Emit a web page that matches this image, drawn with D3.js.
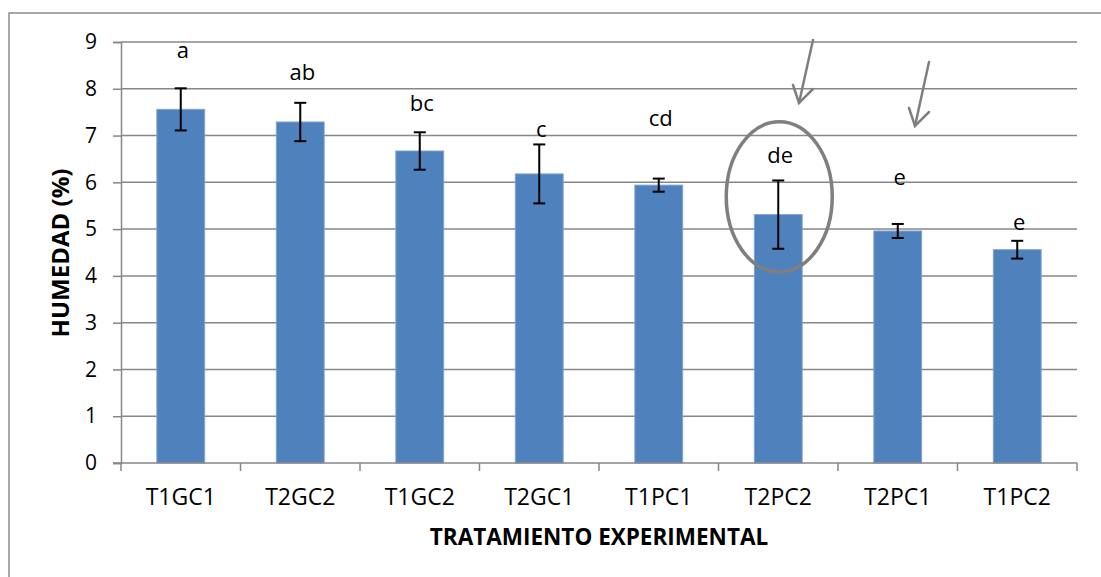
<!DOCTYPE html>
<html>
<head>
<meta charset="utf-8">
<script src="https://cdn.jsdelivr.net/npm/d3@7"></script>
<style>
html,body{margin:0;padding:0;background:#fff;}
svg{display:block;font-family:"Open Sans",sans-serif;}
</style>
</head>
<body>
<svg id="chart" width="1101" height="577"></svg>
<script>
const categories = ["T1GC1","T2GC2","T1GC2","T2GC1","T1PC1","T2PC2","T2PC1","T1PC2"];
const values = [7.56, 7.29, 6.67, 6.18, 5.94, 5.31, 4.96, 4.56];
const errors = [0.45, 0.41, 0.40, 0.63, 0.14, 0.73, 0.15, 0.19];
const letters = ["a","ab","bc","c","cd","de","e","e"];
const letterLevels = [8.66, 8.19, 7.53, 6.97, 7.20, 6.41, 5.94, 4.98];
const yTicks = [0,1,2,3,4,5,6,7,8,9];
const yTitle = "HUMEDAD (%)";
const xTitle = "TRATAMIENTO EXPERIMENTAL";

const svg = d3.select("#chart");
const mLeft = 121, mRight = 1077, mTop = 42, mBottom = 463;
const grid = "#878787";

// outer frame
svg.append("rect").attr("x",9).attr("y",13).attr("width",1101).attr("height",600)
  .attr("fill","none").attr("stroke","#8c8c8c").attr("stroke-width",1.5);

const x = d3.scaleBand().domain(categories).range([mLeft,mRight]).paddingInner(0.6).paddingOuter(0.3);
const xb = d3.scaleBand().domain(categories).range([mLeft,mRight]);
const y = d3.scaleLinear().domain([0,9]).range([mBottom,mTop]);

// gridlines
svg.append("g").selectAll("line").data(yTicks.filter(d=>d>0)).join("line")
  .attr("x1",mLeft).attr("x2",mRight).attr("y1",d=>y(d)).attr("y2",d=>y(d))
  .attr("stroke",grid).attr("stroke-width",1.5);

// y axis
const yAxis = svg.append("g").attr("transform",`translate(${mLeft},0)`)
  .call(d3.axisLeft(y).tickValues(yTicks).tickSize(8).tickPadding(16).tickFormat(d3.format("d")));
yAxis.select(".domain").attr("stroke",grid).attr("stroke-width",1.5);
yAxis.selectAll(".tick line").attr("stroke",grid).attr("stroke-width",1.5);
yAxis.selectAll("text").attr("font-size",21).attr("fill","#000").attr("font-family","Open Sans");

// bars
svg.append("g").selectAll("rect").data(categories).join("rect")
  .attr("x",d=>x(d)).attr("width",x.bandwidth())
  .attr("y",(d,i)=>y(values[i])).attr("height",(d,i)=>y(0)-y(values[i]))
  .attr("fill","#4F81BD").attr("stroke","#7FA2CF").attr("stroke-width",1);

// x axis
const xAxisG = svg.append("g").attr("transform",`translate(0,${mBottom})`);
xAxisG.append("line").attr("x1",mLeft-8).attr("x2",mRight).attr("y1",0).attr("y2",0)
  .attr("stroke",grid).attr("stroke-width",1.5);
const bounds = categories.map(c=>xb(c)).concat([mRight]);
xAxisG.selectAll("line.tk").data(bounds).join("line").attr("class","tk")
  .attr("x1",d=>d).attr("x2",d=>d).attr("y1",0).attr("y2",8)
  .attr("stroke",grid).attr("stroke-width",1.5);
xAxisG.selectAll("text").data(categories).join("text")
  .attr("x",d=>xb(d)+xb.bandwidth()/2).attr("y",42)
  .attr("text-anchor","middle").attr("font-size",23).attr("fill","#000").text(d=>d);

// error bars
const eb = svg.append("g").attr("stroke","#000").attr("stroke-width",2);
categories.forEach((c,i)=>{
  const cx = x(c)+x.bandwidth()/2;
  const y1 = y(values[i]+errors[i]), y2 = y(values[i]-errors[i]);
  eb.append("line").attr("x1",cx).attr("x2",cx).attr("y1",y1).attr("y2",y2);
  eb.append("line").attr("x1",cx-6).attr("x2",cx+6).attr("y1",y1).attr("y2",y1);
  eb.append("line").attr("x1",cx-6).attr("x2",cx+6).attr("y1",y2).attr("y2",y2);
});

// letters
svg.append("g").selectAll("text").data(letters).join("text")
  .attr("x",(d,i)=>x(categories[i])+x.bandwidth()/2+2)
  .attr("y",(d,i)=>y(letterLevels[i]))
  .attr("text-anchor","middle").attr("font-size",22).attr("fill","#000").text(d=>d);

// annotations: ellipse and arrows
const ci = 5;
const ccx = x(categories[ci])+x.bandwidth()/2;
svg.append("ellipse").attr("cx",ccx+1).attr("cy",y(5.69)).attr("rx",53).attr("ry",75)
  .attr("fill","none").attr("stroke","#7f7f7f").attr("stroke-width",3.5);

const arrows = [
  {x1:813,y1:40,x2:799,y2:103},
  {x1:929,y1:62,x2:915,y2:126}
];
const ag = svg.append("g").attr("stroke","#7f7f7f").attr("stroke-width",2.5).attr("fill","none").attr("stroke-linecap","round");
arrows.forEach(a=>{
  ag.append("line").attr("x1",a.x1).attr("y1",a.y1).attr("x2",a.x2).attr("y2",a.y2);
  ag.append("polyline").attr("points",`${a.x2-6},${a.y2-18} ${a.x2},${a.y2} ${a.x2+14},${a.y2-14}`);
});

// axis titles
svg.append("text").attr("transform",`translate(59,253) rotate(-90)`)
  .attr("text-anchor","middle").attr("dominant-baseline","central")
  .attr("font-size",24).attr("font-weight","bold").attr("fill","#000").text(yTitle);
svg.append("text").attr("x",(mLeft+mRight)/2).attr("y",545)
  .attr("text-anchor","middle").attr("font-size",22.5).attr("font-weight","bold").attr("fill","#000").text(xTitle);
</script>
</body>
</html>
